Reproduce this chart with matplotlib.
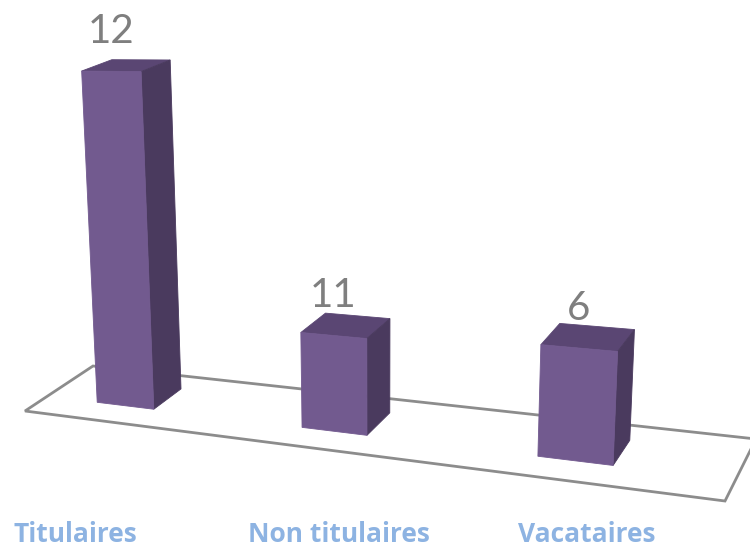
import numpy as np
import matplotlib
matplotlib.use("Agg")
import matplotlib.pyplot as plt
from matplotlib.patches import Polygon

# ---- data ----
categories = ["Titulaires", "Non titulaires", "Vacataires"]
value_labels = [12, 11, 6]          # numbers printed above the bars
bar_heights = [12, 3.35, 3.67]      # heights of the bars as drawn

# ---- style / layout ----
FIG_W, FIG_H = 750, 547
floor_world = [(0, 0), (3, 0), (3, 1), (0, 1)]
floor_screen = [(25, 411), (725, 501), (756, 439), (93, 366)]
vert_vp = (379.0, 6400.0)
mu = 0.004375
bar_offset = 0.41
bar_half = 0.145
v_front, v_back = 0.315, 0.745
label_x = [75, 338.5, 586.5]
label_y = 542

c_front = "#725A8F"
c_side = "#4A3A5E"
c_top = "#5A4673"
c_floor = "#8C8C8C"
c_value = "#7F7F7F"
c_cat = "#8DB3E2"


def homography(src, dst):
    A = []
    for (x, y), (u, v) in zip(src, dst):
        A.append([x, y, 1, 0, 0, 0, -u * x, -u * y, -u])
        A.append([0, 0, 0, x, y, 1, -v * x, -v * y, -v])
    _, _, Vt = np.linalg.svd(np.array(A, float))
    Hm = Vt[-1].reshape(3, 3)
    return Hm / Hm[2, 2]


Hm = homography(floor_world, floor_screen)
P = np.column_stack([Hm[:, 0], Hm[:, 1],
                     -mu * np.array([vert_vp[0], vert_vp[1], 1.0]),
                     Hm[:, 2]])


def proj(u, v, z):
    p = P @ np.array([u, v, z, 1.0])
    return (p[0] / p[2], p[1] / p[2])


fig = plt.figure(figsize=(FIG_W / 100, FIG_H / 100), dpi=100)
ax = fig.add_axes([0, 0, 1, 1])
ax.set_xlim(0, FIG_W)
ax.set_ylim(FIG_H, 0)
ax.axis("off")

# floor
floor_pts = [proj(u, v, 0) for (u, v) in floor_world]
ax.add_patch(Polygon(floor_pts, closed=True, facecolor="white",
                     edgecolor=c_floor, linewidth=2, zorder=1))

for i, (h, val) in enumerate(zip(bar_heights, value_labels)):
    uc = i + bar_offset
    u0, u1 = uc - bar_half, uc + bar_half
    top = [proj(u0, v_front, h), proj(u1, v_front, h),
           proj(u1, v_back, h), proj(u0, v_back, h)]
    side = [proj(u1, v_front, 0), proj(u1, v_back, 0),
            proj(u1, v_back, h), proj(u1, v_front, h)]
    front = [proj(u0, v_front, 0), proj(u1, v_front, 0),
             proj(u1, v_front, h), proj(u0, v_front, h)]
    for pts, col in ((top, c_top), (side, c_side), (front, c_front)):
        ax.add_patch(Polygon(pts, closed=True, facecolor=col,
                             edgecolor=col, linewidth=0.6, zorder=3,
                             joinstyle="miter"))
    anchor = proj(uc, v_front, h)
    ax.annotate(str(val), xy=anchor, xytext=(0, 28),
                textcoords="offset pixels", ha="center", va="baseline",
                fontsize=29, color=c_value, family=["Lato", "DejaVu Sans"],
                zorder=5)

for x, name in zip(label_x, categories):
    ax.text(x, label_y, name, ha="center", va="baseline", fontsize=19,
            fontweight="bold", color=c_cat,
            family=["Open Sans", "DejaVu Sans"])

fig.savefig("out.png", dpi=100, facecolor="white")
